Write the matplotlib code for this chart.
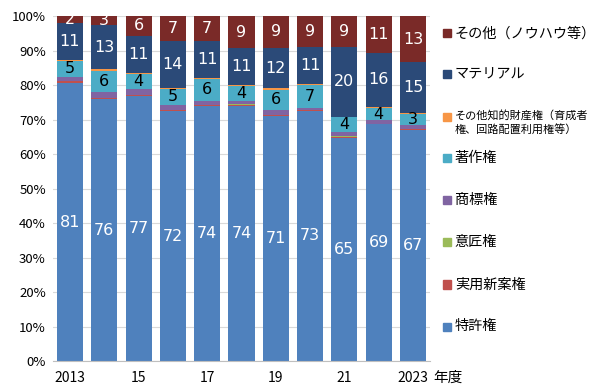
import numpy as np
import matplotlib
matplotlib.use("Agg")
import matplotlib.pyplot as plt
from matplotlib.patches import Rectangle

plt.rcParams['font.family'] = ['Noto Sans CJK JP', 'DejaVu Sans']

years = ['2013', '', '15', '', '17', '', '19', '', '21', '', '2023']

# 構成比 (%)  2013 ... 2023
patent = [80.6, 75.9, 76.8, 72.4, 73.9, 74.0, 71.0, 72.6, 64.6, 68.6, 67.0]
utility = [0.5, 0.3, 0.3, 0.3, 0.3, 0.3, 0.2, 0.1, 0.3, 0.1, 0.2]
design = [0.1, 0.1, 0.1, 0.2, 0.1, 0.2, 0.1, 0.0, 0.4, 0.1, 0.1]
trademark = [1.2, 1.8, 1.7, 1.4, 1.2, 1.0, 1.4, 0.6, 1.0, 1.0, 1.0]
copyright_ = [4.6, 6.0, 4.3, 4.6, 6.2, 4.1, 6.0, 6.7, 4.3, 3.6, 3.3]
other_ip = [0.3, 0.4, 0.3, 0.3, 0.3, 0.3, 0.3, 0.3, 0.2, 0.3, 0.3]
material = [10.7, 12.9, 10.7, 13.6, 10.8, 10.8, 11.8, 10.6, 20.2, 15.6, 14.7]
other = [2.0, 2.6, 5.8, 7.2, 7.2, 9.3, 9.2, 9.1, 9.0, 10.7, 13.4]

series = [
    ('特許権', patent, '#4f81bd', 'white'),
    ('実用新案権', utility, '#c0504d', None),
    ('意匠権', design, '#9bbb59', None),
    ('商標権', trademark, '#8064a2', None),
    ('著作権', copyright_, '#4bacc6', 'black'),
    ('その他知的財産権（育成者\n権、回路配置利用権等）', other_ip, '#f79646', None),
    ('マテリアル', material, '#2b4a78', 'white'),
    ('その他（ノウハウ等）', other, '#7a2a28', 'white'),
]

fig = plt.figure(figsize=(6, 3.9), dpi=100)
ax = fig.add_axes([0.088, 0.074, 0.629, 0.885])

x = np.arange(len(patent))
bottom = np.zeros(len(patent))
for name, vals, color, tcolor in series:
    vals = np.array(vals)
    ax.bar(x, vals, 0.76, bottom=bottom, color=color, zorder=2)
    if tcolor:
        for xi, b, v in zip(x, bottom, vals):
            ax.text(xi, b + v / 2, f'{v:.0f}', ha='center', va='center',
                    color=tcolor, fontsize=11.5, family='DejaVu Sans', zorder=3)
    bottom += vals

ax.set_xlim(-0.5, 10.5)
ax.set_ylim(0, 100)
ax.set_yticks(np.arange(0, 101, 10))
ax.set_yticklabels([f'{v}%' for v in range(0, 101, 10)], fontsize=9.5)
ax.set_xticks(x)
ax.set_xticklabels(years, fontsize=10)
ax.tick_params(axis='x', length=0, pad=7)
ax.tick_params(axis='y', length=0, pad=5)
ax.grid(axis='y', color='#d9d9d9', linewidth=0.8, zorder=0)
for s in ['top', 'right', 'left']:
    ax.spines[s].set_visible(False)
ax.spines['bottom'].set_color('#bfbfbf')
ax.text(10.6, -4.7, '年度', ha='left', va='center', fontsize=10.5,
        transform=ax.transData, clip_on=False)

# 凡例
ys = [0.915, 0.81, 0.70, 0.595, 0.487, 0.379, 0.271, 0.163]
for (name, vals, color, tcolor), yy in zip(series[::-1], ys):
    fig.patches.append(Rectangle((0.738, yy - 0.011), 0.014, 0.021, color=color,
                                 transform=fig.transFigure, figure=fig))
    small = '\n' in name
    fig.text(0.758, yy + (0.018 if small else 0), name, ha='left',
             va='top' if small else 'center',
             fontsize=8 if small else 10.2, linespacing=1.35,
             transform=fig.transFigure)

fig.savefig('out.png', dpi=100)
